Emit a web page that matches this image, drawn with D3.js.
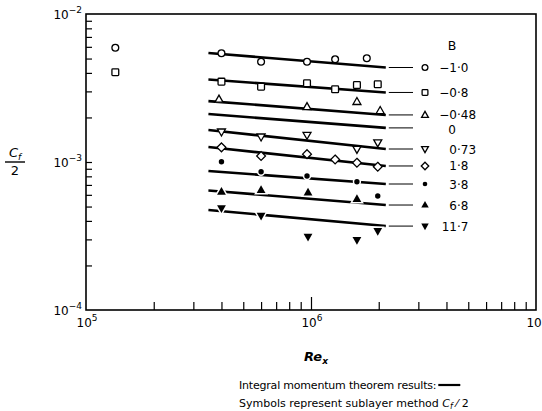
<!DOCTYPE html>
<html>
<head>
<meta charset="utf-8">
<script src="https://cdn.jsdelivr.net/npm/d3@7"></script>
<style>
  body { margin: 0; background: #fff; }
  svg { display: block; font-family: "DejaVu Sans", sans-serif; }
  .tick line { stroke: #000; stroke-width: 1.2; }
</style>
</head>
<body>
<div id="chart"></div>
<script>
// series labels (value of B) and marker kinds, top to bottom
const bLabels = ["−1·0", "−0·8", "−0·48", "0", "0·73", "1·8", "3·8", "6·8", "11·7"];
const markers = ["circle", "square", "triangle", "none", "triangleDown", "diamond", "dot", "triangleFill", "triangleDownFill"];

// integral momentum theorem lines: Re range and Cf/2 at both ends
const lineRe = [3.5e5, 2.15e6];
const lineStart = [5.45e-3, 3.61e-3, 2.58e-3, 2.11e-3, 1.645e-3, 1.262e-3, 8.69e-4, 6.42e-4, 4.74e-4];
const lineEnd = [4.35e-3, 2.95e-3, 2.08e-3, 1.70e-3, 1.224e-3, 9.4e-4, 7.10e-4, 5.12e-4, 3.69e-4];

// sublayer method points [Re, Cf/2]
const ptsM10 = [[1.35e5, 5.92e-3], [4.0e5, 5.43e-3], [6.0e5, 4.76e-3], [9.6e5, 4.76e-3], [1.28e6, 4.94e-3], [1.77e6, 5.02e-3]];
const ptsM08 = [[1.35e5, 4.04e-3], [4.0e5, 3.49e-3], [6.0e5, 3.23e-3], [9.6e5, 3.40e-3], [1.28e6, 3.10e-3], [1.6e6, 3.31e-3], [1.98e6, 3.35e-3]];
const ptsM048 = [[3.9e5, 2.65e-3], [9.6e5, 2.36e-3], [1.6e6, 2.555e-3], [2.03e6, 2.22e-3]];
const pts0 = [];
const pts073 = [[4.0e5, 1.60e-3], [6.0e5, 1.48e-3], [9.6e5, 1.52e-3], [1.6e6, 1.22e-3], [1.98e6, 1.35e-3]];
const pts18 = [[4.0e5, 1.256e-3], [6.0e5, 1.098e-3], [9.6e5, 1.13e-3], [1.28e6, 1.04e-3], [1.6e6, 9.89e-4], [1.98e6, 9.29e-4]];
const pts38 = [[4.0e5, 1.005e-3], [6.0e5, 8.6e-4], [9.6e5, 8.04e-4], [1.6e6, 7.36e-4], [1.98e6, 5.89e-4]];
const pts68 = [[4.0e5, 6.30e-4], [6.0e5, 6.47e-4], [9.7e5, 6.22e-4], [1.6e6, 5.62e-4]];
const pts117 = [[4.0e5, 4.87e-4], [6.0e5, 4.34e-4], [9.7e5, 3.13e-4], [1.6e6, 2.97e-4], [1.98e6, 3.42e-4]];
const points = [ptsM10, ptsM08, ptsM048, pts0, pts073, pts18, pts38, pts68, pts117];

// axis ticks
const xMinor = [2e5, 3e5, 4e5, 5e5, 6e5, 7e5, 8e5, 9e5, 2e6, 3e6, 4e6, 5e6, 6e6, 7e6, 8e6, 9e6];
const xMajor = [1e5, 1e6, 1e7];
const yMinor = [2e-4, 3e-4, 4e-4, 5e-4, 6e-4, 7e-4, 8e-4, 9e-4, 2e-3, 3e-3, 4e-3, 5e-3, 6e-3, 7e-3, 8e-3, 9e-3];
const yMajor = [1e-4, 1e-3, 1e-2];

const W = 542, H = 411;
const margin = {top: 14, right: 6, bottom: 101, left: 86};
const width = W - margin.left - margin.right,
      height = H - margin.top - margin.bottom;

const svg = d3.select("#chart").append("svg")
    .attr("width", W).attr("height", H);
const g = svg.append("g")
    .attr("transform", `translate(${margin.left},${margin.top})`);

const x = d3.scaleLog().domain([1e5, 1e7]).range([0, width]);
const y = d3.scaleLog().domain([1e-4, 1e-2]).range([height, 0]);

// inward ticks
function noDomain(sel) { sel.select(".domain").remove(); }
g.append("g").attr("transform", `translate(0,${height})`)
  .call(d3.axisBottom(x).tickValues(xMinor).tickSize(-8).tickFormat("")).call(noDomain);
g.append("g").attr("transform", `translate(0,${height})`)
  .call(d3.axisBottom(x).tickValues([1e6]).tickSize(-13).tickFormat("")).call(noDomain);
g.append("g")
  .call(d3.axisLeft(y).tickValues(yMinor.concat([1e-3])).tickSize(-6).tickFormat("")).call(noDomain);

// frame
g.append("rect").attr("width", width).attr("height", height)
  .attr("fill", "none").attr("stroke", "#000").attr("stroke-width", 1.6);

// tick labels 10^n
const exp = v => Math.round(Math.log10(v));
g.selectAll(".ylab").data(yMajor).join("text")
  .attr("x", -4).attr("y", d => y(d) + 5)
  .attr("text-anchor", "end").attr("font-size", 12)
  .each(function(d) {
    const t = d3.select(this);
    t.append("tspan").text("10");
    t.append("tspan").attr("font-size", 9).attr("dy", -6).text("−" + (-exp(d)));
  });
g.selectAll(".xlab").data(xMajor).join("text")
  .attr("x", d => x(d) + 1).attr("y", height + 17)
  .attr("text-anchor", "middle").attr("font-size", 12)
  .each(function(d) {
    const t = d3.select(this);
    t.append("tspan").text("10");
    t.append("tspan").attr("font-size", 9).attr("dy", -6).text(exp(d));
  });

// theory lines
const xEnd = x(lineRe[1]);
g.selectAll(".theory").data(lineStart).join("line")
  .attr("x1", x(lineRe[0])).attr("y1", d => y(d))
  .attr("x2", xEnd).attr("y2", (d, i) => y(lineEnd[i]))
  .attr("stroke", "#000").attr("stroke-width", 2.6);

// marker drawing
function drawMarker(sel, kind, s) {
  const k = s || 1;
  if (kind === "circle") {
    sel.append("circle").attr("r", 3.4 * k).attr("fill", "#fff").attr("stroke", "#000").attr("stroke-width", 1.3);
  } else if (kind === "square") {
    sel.append("rect").attr("x", -3.4 * k).attr("y", -3.4 * k).attr("width", 6.8 * k).attr("height", 6.8 * k)
      .attr("rx", 0.8).attr("fill", "#fff").attr("stroke", "#000").attr("stroke-width", 1.3);
  } else if (kind === "triangle" || kind === "triangleDown") {
    const p = `M0,${-4.2 * k}L${4 * k},${2.8 * k}L${-4 * k},${2.8 * k}Z`;
    sel.append("path").attr("d", p).attr("fill", "#fff").attr("stroke", "#000").attr("stroke-width", 1.3)
      .attr("transform", kind === "triangleDown" ? "rotate(180)" : null);
  } else if (kind === "diamond") {
    const p = `M0,${-4.4 * k}L${4.4 * k},0L0,${4.4 * k}L${-4.4 * k},0Z`;
    sel.append("path").attr("d", p).attr("fill", "#fff").attr("stroke", "#000").attr("stroke-width", 1.3);
  } else if (kind === "dot") {
    sel.append("circle").attr("r", 2.7 * k).attr("fill", "#000").attr("stroke", "#fff").attr("stroke-width", 3)
      .attr("paint-order", "stroke");
  } else if (kind === "triangleFill" || kind === "triangleDownFill") {
    const p = `M0,${-4.8 * k}L${4.4 * k},${3 * k}L${-4.4 * k},${3 * k}Z`;
    sel.append("path").attr("d", p).attr("fill", "#000").attr("stroke", "#fff").attr("stroke-width", 3)
      .attr("paint-order", "stroke")
      .attr("transform", kind === "triangleDownFill" ? "rotate(180)" : null);
  }
}

// data points
points.forEach(function(pts, i) {
  g.append("g").selectAll("g").data(pts).join("g")
    .attr("transform", d => `translate(${x(d[0])},${y(d[1])})`)
    .each(function() { drawMarker(d3.select(this), markers[i]); });
});

// legend at line ends
const legend = g.append("g");
legend.append("text").attr("x", 366).attr("y", y(lineEnd[0]) - 18)
  .attr("text-anchor", "middle").attr("font-size", 12.5).text("B");
lineEnd.forEach(function(v, i) {
  const yy = y(v);
  legend.append("line").attr("x1", xEnd + 3).attr("x2", 327).attr("y1", yy).attr("y2", yy)
    .attr("stroke", "#000").attr("stroke-width", 1);
  const m = legend.append("g").attr("transform", `translate(339,${yy})`);
  drawMarker(m, markers[i], 0.85);
  const parts = bLabels[i].split("·");
  if (parts.length === 1) {
    legend.append("text").attr("x", 366).attr("y", yy + 6).attr("text-anchor", "middle")
      .attr("font-size", 12).text(parts[0]);
  } else {
    legend.append("text").attr("x", 371).attr("y", yy + 4.5).attr("text-anchor", "end")
      .attr("font-size", 12).text(parts[0]);
    legend.append("text").attr("x", 371).attr("y", yy + 4.5)
      .attr("font-size", 12).text("·" + parts[1]);
  }
});

// axis titles
const yt = svg.append("g").attr("transform", `translate(15,${margin.top + y(1e-3)})`);
yt.append("text").attr("y", -5).attr("text-anchor", "middle").attr("font-size", 13)
  .attr("font-style", "italic")
  .call(t => { t.append("tspan").text("C"); t.append("tspan").attr("font-size", 9).attr("dy", 3).text("f"); });
yt.append("line").attr("x1", -10).attr("x2", 10).attr("y1", 0).attr("y2", 0)
  .attr("stroke", "#000").attr("stroke-width", 1.4);
yt.append("text").attr("y", 13).attr("text-anchor", "middle").attr("font-size", 13).text("2");

svg.append("text").attr("x", 316).attr("y", 361).attr("text-anchor", "middle")
  .attr("font-size", 13).attr("font-style", "italic").attr("font-weight", "bold")
  .call(t => { t.append("tspan").text("Re"); t.append("tspan").attr("font-size", 9).attr("dy", 3).text("x"); });

// footnote
const foot1 = svg.append("text").attr("x", 239).attr("y", 389).attr("font-size", 11)
  .attr("letter-spacing", -0.2)
  .text("Integral momentum theorem results:");
const f1w = foot1.node().getComputedTextLength();
svg.append("line").attr("x1", 239 + f1w + 2).attr("x2", 239 + f1w + 24).attr("y1", 385).attr("y2", 385)
  .attr("stroke", "#000").attr("stroke-width", 2.2);
svg.append("text").attr("x", 239).attr("y", 407).attr("font-size", 11)
  .call(t => {
    t.append("tspan").text("Symbols represent sublayer method ");
    t.append("tspan").attr("font-style", "italic").text("C");
    t.append("tspan").attr("font-style", "italic").attr("font-size", 8).attr("dy", 2).text("f");
    t.append("tspan").attr("dy", -2).text(" ⁄ 2");
  });
</script>
</body>
</html>
